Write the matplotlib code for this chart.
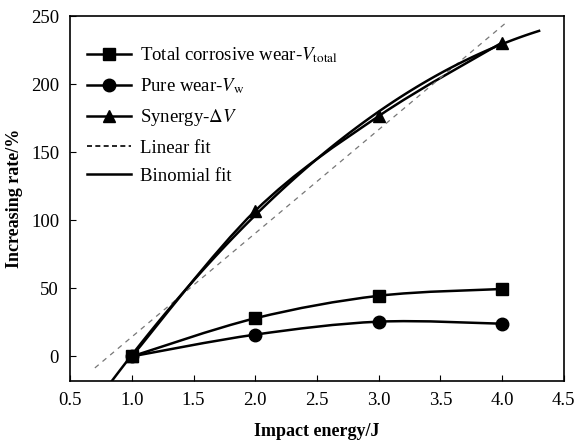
import numpy as np
import matplotlib
matplotlib.use('Agg')
import matplotlib.pyplot as plt
from matplotlib.path import Path
from matplotlib.patches import PathPatch
from matplotlib.lines import Line2D

matplotlib.rcParams['font.family'] = 'Liberation Serif'
matplotlib.rcParams['mathtext.fontset'] = 'stix'

# values
energy = [1.0, 2.0, 3.0, 4.0]
total_wear = [0, 28, 44.5, 49.5]
pure_wear = [0, 16, 25.5, 24]
synergy = [0, 107, 176.5, 230.5]

xticks = [0.5, 1.0, 1.5, 2.0, 2.5, 3.0, 3.5, 4.0, 4.5]
yticks = [0, 50, 100, 150, 200, 250]


def smooth_path(x, y):
    # Excel-like smoothed line: Catmull-Rom segments as cubic Bezier
    pts = np.column_stack([x, y]).astype(float)
    verts = [pts[0]]
    codes = [Path.MOVETO]
    n = len(pts)
    for i in range(n - 1):
        p0 = pts[i - 1] if i > 0 else pts[i]
        p1 = pts[i]
        p2 = pts[i + 1]
        p3 = pts[i + 2] if i + 2 < n else pts[i + 1]
        verts += [p1 + (p2 - p0) / 6, p2 - (p3 - p1) / 6, p2]
        codes += [Path.CURVE4] * 3
    return Path(verts, codes)


fig, ax = plt.subplots(figsize=(5.8, 4.46), dpi=100)
fig.subplots_adjust(left=0.121, right=0.972, top=0.964, bottom=0.146)

lw = 1.8
for ys, mk, ms in [(total_wear, 's', 8), (pure_wear, 'o', 9), (synergy, '^', 9)]:
    ax.add_patch(PathPatch(smooth_path(energy, ys), fill=False, lw=lw, ec='k'))
    ax.plot(energy, ys, linestyle='none', marker=mk, ms=ms, color='k', zorder=5)

# fits of the synergy points
lin = np.polyfit(energy, synergy, 1)
quad = np.polyfit(energy, synergy, 2)
xl = np.linspace(0.7, 4.05, 50)
ax.plot(xl, np.polyval(lin, xl), '--', color='#777777', lw=0.9, dashes=(4, 4))
xq = np.linspace(0.8, 4.3, 100)
ax.plot(xq, np.polyval(quad, xq), '-', color='k', lw=lw)

ax.set_xlim(0.5, 4.5)
ax.set_ylim(-18, 250)
ax.set_xticks(xticks)
ax.set_xticklabels([f'{v:.1f}' for v in xticks])
ax.set_yticks(yticks)
ax.tick_params(direction='in', length=4, labelsize=13.5, pad=8)
for s in ax.spines.values():
    s.set_linewidth(1.2)

ax.set_xlabel('Impact energy/J', fontsize=13, fontweight='bold', labelpad=10)
ax.set_ylabel('Increasing rate/%', fontsize=13, fontweight='bold', labelpad=6)

handles = [
    Line2D([], [], color='k', lw=lw, marker='s', ms=8),
    Line2D([], [], color='k', lw=lw, marker='o', ms=9),
    Line2D([], [], color='k', lw=lw, marker='^', ms=9),
    Line2D([], [], color='k', lw=1.2, ls='--', dashes=(3, 2)),
    Line2D([], [], color='k', lw=lw),
]
labels = [
    r'Total corrosive wear-$V_{\mathrm{total}}$',
    r'Pure wear-$V_{\mathrm{w}}$',
    r'Synergy-$\Delta V$',
    'Linear fit',
    'Binomial fit',
]
ax.legend(handles, labels, loc='upper left', bbox_to_anchor=(0.035, 0.92),
          frameon=False, fontsize=13.5, handlelength=2.3, handletextpad=0.5,
          labelspacing=0.6, borderpad=0, borderaxespad=0)

fig.savefig('out.png', dpi=100)
